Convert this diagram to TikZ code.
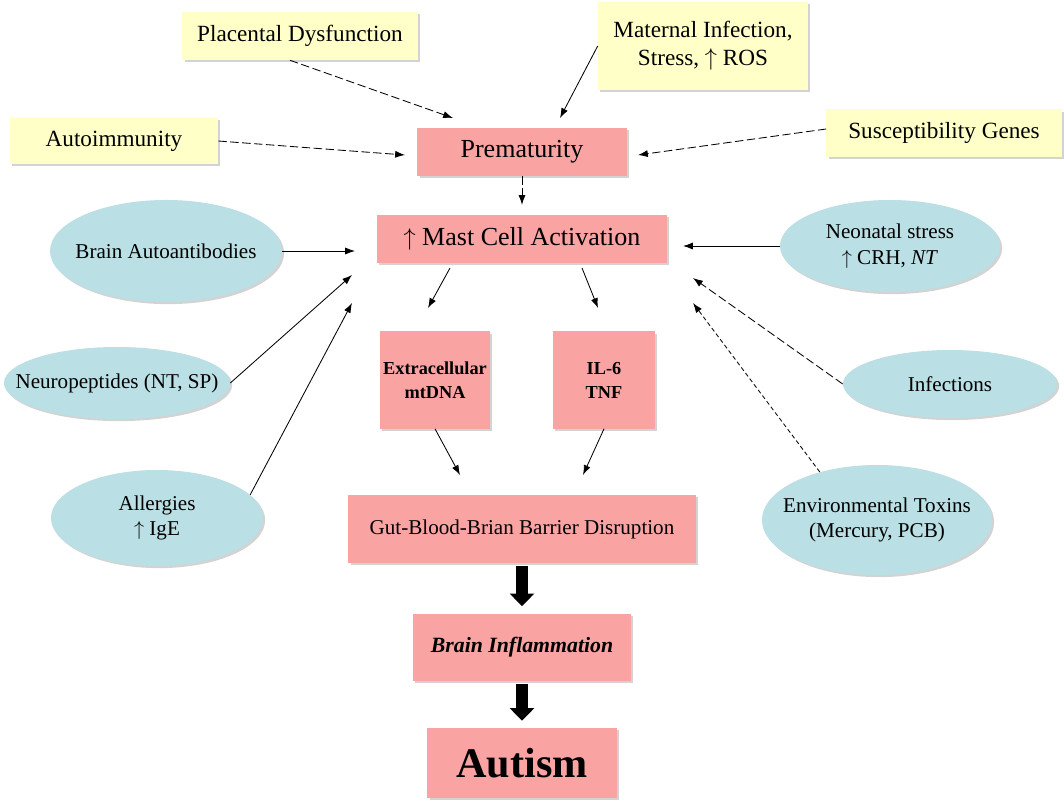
\documentclass[tikz,border=0pt]{standalone}
\usepackage{fontspec}
\setmainfont{Liberation Serif}
\usetikzlibrary{positioning,shadows,arrows.meta,shapes.geometric}
\definecolor{ylw}{RGB}{255,255,200}
\definecolor{pnk}{RGB}{249,163,163}
\definecolor{blu}{RGB}{186,223,228}
\tikzset{
  shad/.style = {drop shadow={shadow xshift=1.5pt,shadow yshift=-1.5pt,opacity=0.35}},
  cause/.style = {fill=ylw, shad, align=center, inner sep=0pt, font=\fontsize{16.5}{20}\selectfont},
  stage/.style = {fill=pnk, shad, align=center, inner sep=0pt, font=\fontsize{18.5}{22}\selectfont},
  oval/.style = {ellipse, fill=blu, shad, align=center, inner xsep=-20pt, inner ysep=0pt, font=\fontsize{15}{18}\selectfont},
  link/.style = {-{Latex[length=7pt,width=5pt]}, line width=0.6pt},
  dlink/.style = {link, dash pattern=on 6pt off 2.5pt},
  fat/.style = {line width=8pt, -{Triangle[length=9pt,width=17pt]}, shorten <=2pt, shorten >=5pt}
}
\begin{document}
\begin{tikzpicture}[x=0.025cm, y=-0.025cm, node distance=2.175cm]
\useasboundingbox (0,0) rectangle (1064,803);
% central chain
\node[stage, minimum width=5.225cm, minimum height=1.2cm] (prem) at (522,152) {Prematurity};
\node[stage, minimum width=7.25cm, minimum height=1.2cm] (mast) [below of=prem] {$\uparrow$ Mast Cell Activation};
\node[stage, font=\bfseries\fontsize{13}{17}\selectfont, minimum width=2.75cm, minimum height=2.425cm] (mt) at (435,380) {Extracellular\\mtDNA};
\node[stage, font=\bfseries\fontsize{13}{17}\selectfont, minimum width=2.55cm, minimum height=2.425cm] (il) at (604,380) {IL-6\\TNF};
\node[stage, font=\fontsize{15}{18}\selectfont, minimum width=8.675cm, minimum height=1.7cm] (gut) at (522,529) {Gut-Blood-Brian Barrier Disruption};
\node[stage, font=\bfseries\itshape\fontsize{15.5}{18}\selectfont, minimum width=5.45cm, minimum height=1.675cm] (infl) [below of=gut, node distance=2.95cm] {Brain Inflammation};
\node[stage, font=\bfseries\fontsize{30}{34}\selectfont, minimum width=4.725cm, minimum height=1.75cm] (aut) [below of=infl, node distance=2.9cm] {Autism};

% yellow causes
\node[cause, minimum width=5.875cm, minimum height=1.2cm] (pla) at (300,36) {Placental Dysfunction};
\node[cause, minimum width=5.25cm, minimum height=2.2cm] (mat) at (703,46) {Maternal Infection,\\Stress, $\uparrow$ ROS};
\node[cause, minimum width=5.2cm, minimum height=1.15cm] (ai) at (114,141) {Autoimmunity};
\node[cause, minimum width=5.875cm, minimum height=1.175cm] (sus) at (944,133) {Susceptibility Genes};

% blue triggers
\node[oval, minimum width=5.8cm, minimum height=2.55cm] (bab) at (166,251) {Brain Autoantibodies};
\node[oval, minimum width=5.65cm, minimum height=1.8cm] (neu) at (117,383) {Neuropeptides (NT, SP)};
\node[oval, minimum width=5.3cm, minimum height=2.4cm] (all) at (157,518) {Allergies\\$\uparrow$ IgE};
\node[oval, minimum width=5.5cm, minimum height=2.3cm] (neo) at (890,246) {Neonatal stress\\$\uparrow$ CRH, \textit{NT}};
\node[oval, minimum width=5.35cm, minimum height=1.7cm] (inf) at (950,384) {Infections};
\node[oval, minimum width=5.75cm, minimum height=2.75cm] (env) at (877,520) {Environmental Toxins\\(Mercury, PCB)};

% free arrow ends
\coordinate (p1) at (453,118);
\coordinate (p2) at (560,118);
\coordinate (p3) at (405,155);
\coordinate (p4) at (638,155);
\coordinate (m1) at (355,251);
\coordinate (m2) at (352,275);
\coordinate (m3) at (352,303);
\coordinate (m4) at (683,246);
\coordinate (m5) at (693,278);
\coordinate (m6) at (693,303);
\coordinate (s1) at (450,268);
\coordinate (s2) at (428,308);
\coordinate (s3) at (582,268);
\coordinate (s4) at (598,308);
\coordinate (g1) at (460,475);
\coordinate (g2) at (583,475);

\draw[dlink] ([xshift=-0.25cm]pla.south) -- (p1);
\draw[link] (mat.west) -- (p2);
\draw[dlink] (ai.east) -- (p3);
\draw[dlink] ([yshift=0.1cm]sus.west) -- (p4);
\draw[dlink, shorten >=7pt] (prem) -- (mast);
\draw[link] (bab.east) -- (m1);
\draw[link] (neu.east) -- (m2);
\draw[link] (all.14) -- (m3);
\draw[link] (neo.west) -- (m4);
\draw[dlink] (inf.west) -- (m5);
\draw[link, densely dashed] (env.140) -- (m6);
\draw[link] (s1) -- (s2);
\draw[link] (s3) -- (s4);
\draw[link] (mt.south) -- (g1);
\draw[link] (il.south) -- (g2);
\draw[fat] (gut) -- (infl);
\draw[fat] (infl) -- (aut);
\end{tikzpicture}
\end{document}
